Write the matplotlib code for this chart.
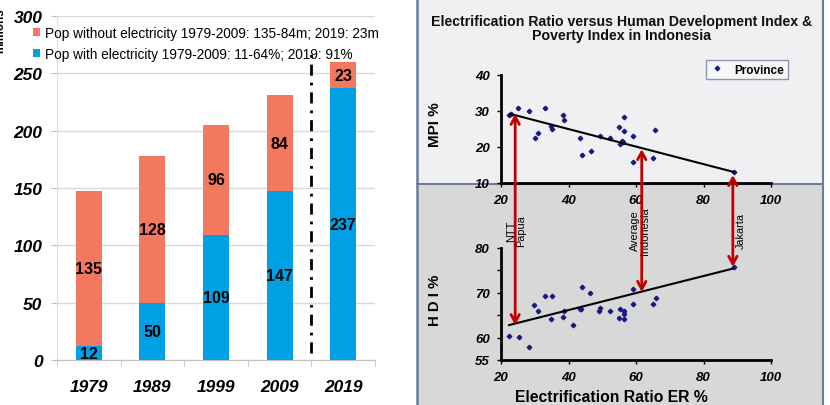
import matplotlib
matplotlib.use("Agg")
import matplotlib.pyplot as plt
from matplotlib.patches import Rectangle, ConnectionPatch

plt.rcParams['font.family'] = ['Liberation Sans', 'DejaVu Sans']

# LEFT CHART DATA
years = ['1979', '1989', '1999', '2009', '2019']
pop_with = [12, 50, 109, 147, 237]
pop_without = [135, 128, 96, 84, 23]
label_without = 'Pop without electricity 1979-2009: 135-84m; 2019: 23m'
label_with = 'Pop with electricity 1979-2009: 11-64%; 2019: 91%'

# RIGHT CHART DATA (electrification ratio vs MPI / HDI by province)
er_mpi = [22.4, 22.9, 25.1, 28.3, 30.0, 31.0, 33.0, 34.7, 35.2, 38.4, 38.8, 43.5, 44.1, 46.6,
          49.2, 52.4, 54.9, 55.3, 55.8, 56.3, 56.4, 56.2, 59.1, 59.2, 65.1, 65.7, 89.0]
mpi = [28.8, 29.2, 30.8, 30.0, 22.6, 23.8, 30.7, 25.8, 25.0, 28.8, 27.6, 22.6, 17.7, 19.0,
       23.0, 22.6, 25.5, 20.8, 21.6, 28.2, 24.5, 21.5, 23.1, 15.7, 17.0, 24.6, 13.0]
er_hdi = [22.4, 25.2, 28.4, 29.9, 31.0, 32.9, 35.2, 34.7, 38.4, 38.7, 41.3, 43.3, 43.6, 44.0,
          46.5, 48.9, 49.4, 52.4, 54.9, 55.3, 56.3, 56.3, 56.4, 59.1, 59.2, 65.1, 65.8, 89.0]
hdi = [60.4, 60.2, 57.9, 67.3, 66.0, 69.3, 69.2, 64.2, 64.6, 66.0, 62.9, 66.3, 66.4, 71.3,
       70.0, 65.9, 66.6, 65.9, 64.3, 66.4, 66.0, 65.3, 64.2, 70.9, 67.5, 67.5, 68.9, 75.7]
# trend lines (end points)
mpi_trend_er = [22.7, 88.8]
mpi_trend = [29.2, 13.1]
hdi_trend_er = [22.4, 88.7]
hdi_trend = [62.8, 75.4]
# highlighted provinces: ER, MPI end, HDI end
arrow_names = ['NTT\nPapua', 'Average\nIndonesia', 'Jakarta']
arrow_er = [24.2, 61.7, 88.7]
arrow_mpi = [29.2, 19.4, 12.2]
arrow_hdi = [62.8, 70.2, 75.8]
name_dx = [0.3, -0.4, 2.5]

ORANGE = '#F4775F'
BLUE = '#00A1E4'
RED = '#C00000'
NAVY = '#1A1A80'

W, H = 830, 406
fig = plt.figure(figsize=(W / 100, H / 100), dpi=100)


def box(l, t, r, b):
    # pixel box -> figure fraction rect
    return [l / W, 1 - b / H, (r - l) / W, (b - t) / H]


# background (panel fills and border of the right picture)
bg = fig.add_axes([0, 0, 1, 1], zorder=-5)
bg.set_xlim(0, W)
bg.set_ylim(H, 0)
bg.axis('off')
bg.add_patch(Rectangle((416.5, 0), 406, 184.7, color='#F0F0F2', lw=0))
bg.add_patch(Rectangle((416.5, 184.7), 406, 222, color='#D8D8D8', lw=0))
bg.plot([416.5, 416.5], [0, H], color='#6B7B9B', lw=1.8)
bg.plot([822.5, 822.5], [0, H], color='#6B7B9B', lw=1.5)
bg.plot([416.5, 822.5], [184.7, 184.7], color='#6B7B9B', lw=1.5)

# LEFT: stacked bars
ax = fig.add_axes(box(57, 17, 375, 361))
x = range(len(years))
b1 = ax.bar(x, pop_with, width=0.41, color=BLUE, zorder=3)
b2 = ax.bar(x, pop_without, width=0.41, bottom=pop_with, color=ORANGE, zorder=3)
for i in x:
    ax.text(i, pop_with[i] / 2, str(pop_with[i]), ha='center', va='center',
            fontsize=11.5, fontweight='bold', zorder=4)
    ax.text(i, pop_with[i] + pop_without[i] / 2, str(pop_without[i]), ha='center', va='center',
            fontsize=11.5, fontweight='bold', zorder=4)

ax.set_xlim(-0.5, 4.5)
ax.set_ylim(0, 300)
ax.set_yticks(range(0, 301, 50))
ax.yaxis.grid(True, color='#D9D9D9', lw=1)
ax.set_axisbelow(True)
for s in ['top', 'right']:
    ax.spines[s].set_visible(False)
ax.spines['left'].set_color('#E0E0E0')
ax.spines['bottom'].set_color('#BFBFBF')
ax.tick_params(axis='y', length=4, color='#BFBFBF', pad=6.5, labelsize=12.5)
ax.set_xticks(list(x))
ax.set_xticklabels(years)
ax.set_xticks([-0.5, 0.5, 1.5, 2.5, 3.5, 4.5], minor=True)
ax.tick_params(axis='x', which='major', length=0, pad=14, labelsize=12.5)
ax.tick_params(axis='x', which='minor', length=4, color='#BFBFBF')
for t in ax.get_xticklabels() + ax.get_yticklabels():
    t.set_fontweight('bold')
    t.set_fontstyle('italic')
ax.axvline(3.5, ymin=0.02, ymax=0.89, color='black', lw=2, ls=(0, (4, 2.5, 1, 2.5)), zorder=5)
ax.legend([b2, b1], [label_without, label_with], loc='upper left',
          bbox_to_anchor=(33 / W, 1 - 27 / H), bbox_transform=fig.transFigure,
          frameon=False, fontsize=9.8, handlelength=0.5, handleheight=0.5,
          handletextpad=0.35, labelspacing=0.5, borderpad=0, borderaxespad=0)
fig.text(0, 1 - 31 / H, 'millions', rotation=90, ha='center', va='center',
         fontsize=8.5, fontweight='bold')

# RIGHT: title
fig.text(622 / W, 1 - 29 / H,
         'Electrification Ratio versus Human Development Index &\nPoverty Index in Indonesia',
         ha='center', va='center', fontsize=10.2, fontweight='bold', linespacing=0.95,
         color='#111111')

# top panel: MPI
ax1 = fig.add_axes(box(501, 76, 771, 184))
ax1.patch.set_alpha(0)
ax1.plot(er_mpi, mpi, 'D', color=NAVY, ms=2.3, mec=NAVY, label='Province')
ax1.plot(mpi_trend_er, mpi_trend, color='black', lw=1.5)
ax1.set_xlim(20, 100)
ax1.set_ylim(10, 40)
ax1.set_yticks([10, 20, 30, 40])
ax1.set_xticks([20, 40, 60, 80, 100])
ax1.set_ylabel('MPI %', fontsize=11, fontweight='bold')
ax1.yaxis.set_label_coords(-0.218, 0.55)
ax1.legend(loc='upper left', bbox_to_anchor=(706 / W, 1 - 61 / H), bbox_transform=fig.transFigure,
           prop={'weight': 'bold', 'size': 8.5}, fancybox=False,
           edgecolor='#8A96B4', facecolor='#F7F7F7', framealpha=1, handlelength=1.2,
           handletextpad=0.9, borderpad=0.3, borderaxespad=0)

# bottom panel: HDI
ax2 = fig.add_axes(box(501, 249, 771, 361))
ax2.patch.set_alpha(0)
ax2.plot(er_hdi, hdi, 'D', color=NAVY, ms=2.3, mec=NAVY)
ax2.plot(hdi_trend_er, hdi_trend, color='black', lw=1.5)
ax2.set_xlim(20, 100)
ax2.set_ylim(55, 80)
ax2.set_yticks([55, 60, 65, 70, 75, 80])
ax2.set_yticklabels(['55', '60', '', '70', '', '80'])
ax2.set_xticks([20, 40, 60, 80, 100])
ax2.set_ylabel('H D I %', fontsize=10.8, fontweight='bold')
ax2.yaxis.set_label_coords(-0.218, 0.545)
ax2.set_xlabel('Electrification Ratio ER %', fontsize=11.3, fontweight='bold')
ax2.xaxis.set_label_coords(0.41, -0.255)

for a in [ax1, ax2]:
    for s in ['top', 'right']:
        a.spines[s].set_visible(False)
    for s in ['left', 'bottom']:
        a.spines[s].set_linewidth(2)
    a.tick_params(length=3, width=1, pad=5, labelsize=9.5)
    for t in a.get_xticklabels() + a.get_yticklabels():
        t.set_fontweight('bold')
        t.set_fontstyle('italic')

# arrows between the two panels
for name, e, m, h, dx in zip(arrow_names, arrow_er, arrow_mpi, arrow_hdi, name_dx):
    con = ConnectionPatch(xyA=(e, m), coordsA=ax1.transData, xyB=(e, h), coordsB=ax2.transData,
                          arrowstyle='<->,head_length=0.55,head_width=0.3', color=RED, lw=2,
                          shrinkA=0, shrinkB=0, zorder=6)
    fig.add_artist(con)
    ax2.text(e + dx, 84.0, name, rotation=90, ha='center', va='center', fontsize=7.8,
             linespacing=1.0, clip_on=False, zorder=7)

fig.savefig('out.png', dpi=100)
